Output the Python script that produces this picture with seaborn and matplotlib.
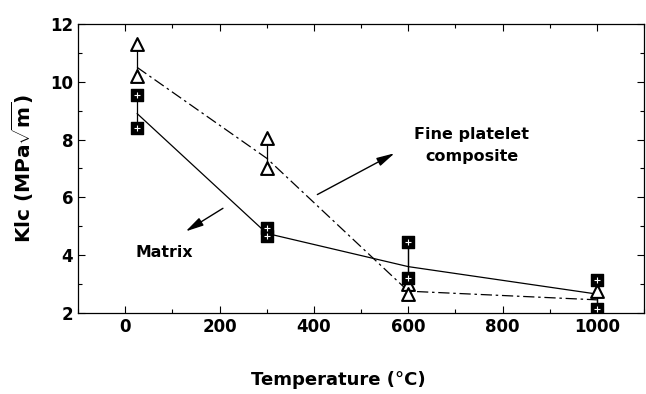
import matplotlib
matplotlib.use("Agg")
import matplotlib.pyplot as plt
from matplotlib.ticker import MultipleLocator
import seaborn as sns
import pandas as pd

# ---- data ----
temps = [25, 300, 600, 1000]
composite_mean = [10.5, 7.35, 2.75, 2.45]
matrix_mean = [8.9, 4.75, 3.6, 2.65]

comp_x = [25, 25, 300, 300, 600, 600, 1000]
comp_y = [11.3, 10.2, 8.05, 7.0, 3.0, 2.65, 2.75]
mat_x = [25, 25, 300, 300, 600, 600, 1000, 1000]
mat_y = [9.55, 8.4, 4.95, 4.65, 4.45, 3.2, 3.15, 2.15]

x_ticks = [0, 200, 400, 600, 800, 1000]
y_ticks = [2, 4, 6, 8, 10, 12]

sns.set_theme(style="ticks")
plt.rcParams["font.family"] = ["DejaVu Sans"]
plt.rcParams["font.weight"] = "bold"
plt.rcParams["text.color"] = "black"
plt.rcParams["axes.labelcolor"] = "black"
plt.rcParams["xtick.color"] = "black"
plt.rcParams["ytick.color"] = "black"
plt.rcParams["mathtext.fontset"] = "custom"
plt.rcParams["mathtext.rm"] = "DejaVu Sans:bold"
plt.rcParams["mathtext.it"] = "DejaVu Sans:bold"
plt.rcParams["mathtext.bf"] = "DejaVu Sans:bold"

fig = plt.figure(figsize=(6.46, 3.94), dpi=100)
ax = fig.add_axes([0.121, 0.206, 0.876, 0.733])

mean_df = pd.DataFrame({"T": temps, "comp": composite_mean, "mat": matrix_mean})
comp_df = pd.DataFrame({"T": comp_x, "K": comp_y})
mat_df = pd.DataFrame({"T": mat_x, "K": mat_y})

# range bars connecting replicate points
for t in temps:
    cv = [y for x, y in zip(comp_x, comp_y) if x == t]
    mv = [y for x, y in zip(mat_x, mat_y) if x == t]
    for grp in (cv, mv):
        if len(grp) > 1:
            ax.plot([t, t], [min(grp), max(grp)], color="black", lw=0.9, zorder=1)
    if t >= 600:
        vals = cv + mv
        ax.plot([t, t], [min(vals), max(vals)], color="black", lw=0.9, zorder=1)

sns.lineplot(data=mean_df, x="T", y="comp", ax=ax, color="black", lw=0.9,
             zorder=2).lines[-1].set_dashes([9, 3, 2, 3])
sns.lineplot(data=mean_df, x="T", y="mat", ax=ax, color="black", lw=0.9, zorder=2)

sns.scatterplot(data=comp_df, x="T", y="K", ax=ax, marker="^", s=85,
                facecolor="white", edgecolor="black", linewidth=1.5, zorder=4)
sns.scatterplot(data=mat_df, x="T", y="K", ax=ax, marker="s", s=80,
                color="black", edgecolor="black", linewidth=1, zorder=4)
sns.scatterplot(data=mat_df, x="T", y="K", ax=ax, marker="+", s=18,
                color="white", linewidth=0.8, zorder=5)

ax.set_xlim(-100, 1100)
ax.set_ylim(2, 12)
ax.set_xticks(x_ticks)
ax.set_yticks(y_ticks)
ax.xaxis.set_minor_locator(MultipleLocator(100))
ax.yaxis.set_minor_locator(MultipleLocator(1))
ax.tick_params(which="both", direction="in", top=True, right=True,
               labelsize=12, width=0.8, color="black", labelcolor="black")
ax.tick_params(which="major", length=5)
ax.tick_params(which="minor", length=3)
for lab in ax.get_xticklabels() + ax.get_yticklabels():
    lab.set_fontweight("bold")
for s in ax.spines.values():
    s.set_linewidth(0.9)
    s.set_color("black")

ax.set_xlabel("Temperature (°C)", fontsize=13, fontweight="bold", color="black")
ax.xaxis.set_label_coords(0.46, -0.2, transform=ax.transAxes)
ax.xaxis.label.set_va("top")
ax.set_ylabel(r"Klc (MPa$\sqrt{\mathrm{m}}$)", fontsize=14.5, fontweight="bold",
              color="black", labelpad=10)

ax.annotate("", xy=(576, 7.57), xytext=(402, 6.05),
            arrowprops=dict(arrowstyle="-|>,head_length=0.9,head_width=0.22",
                            color="black", lw=1))
ax.annotate("", xy=(123, 4.77), xytext=(212, 5.67),
            arrowprops=dict(arrowstyle="-|>,head_length=0.9,head_width=0.22",
                            color="black", lw=1))
ax.text(735, 7.8, "Fine platelet\ncomposite", ha="center", va="center",
        fontsize=11.5, fontweight="bold", linespacing=1.6, color="black")
ax.text(83, 4.1, "Matrix", ha="center", va="center", fontsize=11.3,
        fontweight="bold", color="black")

fig.savefig("out.png", dpi=100)
